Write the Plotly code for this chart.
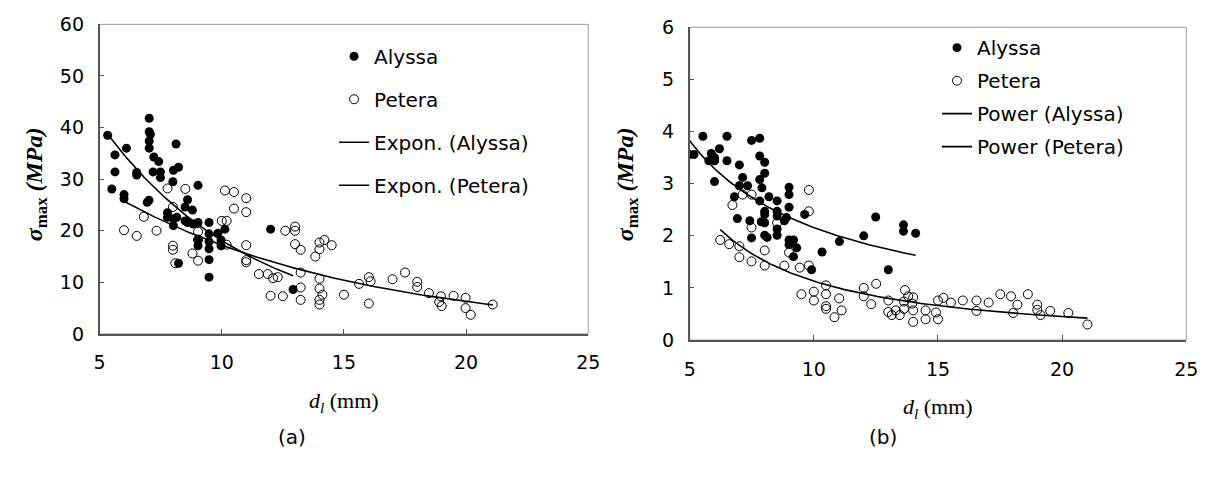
import numpy as np
import plotly.graph_objects as go

# ---------------- data (a) ----------------
alyssa_a_x = [5.33, 5.63, 5.63, 5.50, 6.10, 6.00, 6.00, 6.52, 6.52, 6.95, 7.02, 7.03, 7.03, 7.08, 7.03,
              7.03, 7.22, 7.42, 7.19, 7.49, 7.49, 8.13, 8.02, 8.23, 8.00, 9.03, 8.60, 8.50, 8.80, 7.78,
              7.78, 8.02, 8.02, 8.16, 8.50, 8.83, 9.03, 9.48, 9.03, 9.03, 9.48, 9.48, 9.48, 9.84, 9.97,
              9.97, 10.13, 9.48, 9.48, 8.23, 12.0, 12.92, 8.60]
alyssa_a_y = [38.5, 34.7, 31.4, 28.1, 36.0, 27.0, 26.2, 31.3, 30.8, 25.5, 25.9, 41.8, 39.2, 38.7, 37.4,
              36.0, 34.3, 33.4, 31.4, 31.4, 30.3, 36.8, 31.7, 32.3, 29.5, 28.8, 26.0, 24.6, 24.0, 23.5,
              22.6, 22.3, 21.0, 22.6, 21.9, 21.3, 21.6, 21.6, 18.4, 17.1, 19.4, 17.9, 16.5, 19.5, 18.2,
              17.1, 20.3, 14.4, 11.0, 13.7, 20.3, 8.6, 21.6]
petera_a_x = [6.0, 6.52, 7.33, 6.81, 7.78, 8.51, 8.0, 8.0, 8.0, 8.1, 8.8, 9.03, 9.03, 9.03, 10.0, 10.2,
              10.13, 10.5, 11.0, 10.5, 11.0, 10.2, 11.0, 11.0, 11.0, 11.52, 11.88, 12.1, 12.29, 12.0,
              12.5, 12.6, 13.0, 13.0, 13.0, 13.23, 13.23, 13.23, 13.23, 13.83, 14.0, 14.0, 14.2, 14.5,
              14.0, 14.0, 14.12, 14.0, 14.0, 15.0, 15.62, 16.02, 16.09, 16.02, 16.99, 17.5, 18.0, 18.0,
              18.48, 18.97, 18.9, 19.0, 19.49, 19.98, 19.98, 20.19, 21.09]
petera_a_y = [20.1, 19.0, 20.0, 22.7, 28.2, 28.1, 24.6, 17.1, 16.3, 13.7, 15.6, 14.2, 19.8, 18.2, 21.9, 21.9,
              27.8, 27.5, 26.3, 24.3, 23.6, 17.3, 17.2, 14.3, 13.9, 11.6, 11.6, 10.8, 11.0, 7.4,
              7.3, 20.0, 20.8, 20.0, 17.4, 16.3, 11.9, 9.0, 6.6, 15.0, 16.4, 17.7, 18.2, 17.2,
              10.7, 8.8, 7.6, 6.6, 5.7, 7.6, 9.7, 11.0, 10.2, 5.9, 10.6, 11.9, 10.1, 9.1,
              7.9, 7.3, 6.2, 5.4, 7.4, 7.0, 5.0, 3.7, 5.7]

# ---------------- data (b) ----------------
alyssa_b_x = [4.97, 5.17, 5.53, 6.2, 5.87, 6.0, 5.77, 6.0, 6.5, 6.5, 6.0, 7.0, 7.13, 7.0, 7.33, 6.8,
              7.49, 7.82, 7.82, 8.02, 8.02, 7.82, 7.91, 7.82, 8.19, 8.52, 6.92, 7.42, 8.02, 8.02, 7.88,
              8.02, 8.52, 8.52, 9.0, 9.0, 9.0, 8.81, 8.9, 9.63, 8.52, 8.52, 7.49, 8.02, 8.12, 9.0, 9.18,
              9.0, 9.31, 9.18, 9.91, 10.33, 11.03, 12.01, 12.49, 13.61, 13.61, 14.1, 13.0]
alyssa_b_y = [3.56, 3.56, 3.91, 3.67, 3.58, 3.50, 3.44, 3.44, 3.91, 3.44, 3.04, 3.36, 3.12, 2.96, 2.96, 2.75,
              3.83, 3.87, 3.53, 3.41, 3.20, 3.08, 2.92, 2.67, 2.75, 2.67, 2.33, 2.29, 2.47, 2.41, 2.27,
              2.25, 2.47, 2.38, 2.93, 2.79, 2.55, 2.29, 2.35, 2.41, 2.13, 2.01, 1.96, 2.01, 1.97, 1.92, 1.92,
              1.83, 1.77, 1.60, 1.35, 1.69, 1.89, 2.0, 2.36, 2.21, 2.09, 2.05, 1.35]
petera_b_x = [6.23, 6.59, 7.0, 7.0, 7.49, 8.02, 8.02, 8.81, 9.0, 9.43, 9.8, 6.72, 7.13, 7.49, 7.49, 8.52,
              9.8, 9.8, 9.5, 10.0, 10.0, 10.49, 10.49, 10.49, 10.49, 10.83, 11.02, 11.12, 12.01, 12.01,
              12.31, 12.51, 13.0, 13.0, 13.14, 13.3, 13.46, 13.63, 13.63, 13.67, 13.8, 13.96, 14.0, 14.0,
              14.0, 14.5, 14.5, 14.92, 15.0, 15.0, 15.22, 15.52, 16.0, 16.55, 16.55, 17.04, 17.51, 17.94,
              18.2, 18.03, 18.62, 19.0, 19.0, 19.13, 19.52, 20.25, 21.02]
petera_b_y = [1.92, 1.84, 1.80, 1.59, 1.51, 1.72, 1.43, 1.43, 1.68, 1.39, 1.43, 2.59, 2.79, 2.79, 2.16, 2.25,
              2.88, 2.47, 0.88, 0.93, 0.76, 1.05, 0.88, 0.65, 0.60, 0.44, 0.80, 0.57, 1.0, 0.84,
              0.69, 1.08, 0.76, 0.54, 0.48, 0.57, 0.48, 0.74, 0.60, 0.96, 0.84, 0.70, 0.82, 0.57,
              0.35, 0.57, 0.40, 0.53, 0.40, 0.76, 0.81, 0.72, 0.76, 0.76, 0.56, 0.72, 0.88, 0.84,
              0.68, 0.52, 0.88, 0.68, 0.58, 0.48, 0.56, 0.52, 0.30]

x_ticks = [5, 10, 15, 20, 25]
ya_ticks = [0, 10, 20, 30, 40, 50, 60]
yb_ticks = [0, 1, 2, 3, 4, 5, 6]


def expon_trend(x, y):
    x = np.asarray(x, float); y = np.asarray(y, float)
    b, lna = np.polyfit(x, np.log(y), 1)
    xs = np.linspace(x.min(), x.max(), 120)
    return xs, np.exp(lna) * np.exp(b * xs)


def power_trend(x, y):
    x = np.asarray(x, float); y = np.asarray(y, float)
    b, lna = np.polyfit(np.log(x), np.log(y), 1)
    xs = np.linspace(x.min(), x.max(), 120)
    return xs, np.exp(lna) * xs ** b


W, H = 1215, 478
SANS = "DejaVu Sans"
SERIF = "Liberation Serif"

fig = go.Figure()

filled = dict(symbol="circle", size=9, color="black", line=dict(width=0))
opened = dict(symbol="circle-open", size=9, color="black", line=dict(width=1))
lstyle = dict(color="black", width=1.6)

# panel (a)
fig.add_trace(go.Scatter(x=alyssa_a_x, y=alyssa_a_y, mode="markers", marker=filled, name="Alyssa",
                         xaxis="x", yaxis="y", legend="legend", legendgroup="a1"))
fig.add_trace(go.Scatter(x=petera_a_x, y=petera_a_y, mode="markers", marker=opened, name="Petera",
                         xaxis="x", yaxis="y", legend="legend", legendgroup="a2"))
tx, ty = expon_trend(alyssa_a_x, alyssa_a_y)
fig.add_trace(go.Scatter(x=tx, y=ty, mode="lines", line=lstyle, name="Expon. (Alyssa)",
                         xaxis="x", yaxis="y", legend="legend", legendgroup="a3"))
tx, ty = expon_trend(petera_a_x, petera_a_y)
fig.add_trace(go.Scatter(x=tx, y=ty, mode="lines", line=lstyle, name="Expon. (Petera)",
                         xaxis="x", yaxis="y", legend="legend", legendgroup="a4"))

# panel (b)
fig.add_trace(go.Scatter(x=alyssa_b_x, y=alyssa_b_y, mode="markers", marker=filled, name="Alyssa",
                         xaxis="x2", yaxis="y2", legend="legend2", legendgroup="b1"))
fig.add_trace(go.Scatter(x=petera_b_x, y=petera_b_y, mode="markers", marker=opened, name="Petera",
                         xaxis="x2", yaxis="y2", legend="legend2", legendgroup="b2"))
tx, ty = power_trend(alyssa_b_x, alyssa_b_y)
fig.add_trace(go.Scatter(x=tx, y=ty, mode="lines", line=lstyle, name="Power (Alyssa)",
                         xaxis="x2", yaxis="y2", legend="legend2", legendgroup="b3"))
tx, ty = power_trend(petera_b_x, petera_b_y)
fig.add_trace(go.Scatter(x=tx, y=ty, mode="lines", line=lstyle, name="Power (Petera)",
                         xaxis="x2", yaxis="y2", legend="legend2", legendgroup="b4"))

tickfont = dict(family=SANS, size=19, color="black")
axis_common = dict(showgrid=False, zeroline=False, showline=True, linecolor="#555555", linewidth=1.5,
                   ticks="inside", ticklen=5, tickcolor="#555555", tickwidth=1, tickfont=tickfont,
                   mirror=False)

fig.update_layout(
    width=W, height=H, margin=dict(l=0, r=0, t=0, b=0),
    paper_bgcolor="white", plot_bgcolor="white",
    xaxis=dict(domain=[95 / W, 591 / W], range=[5, 25], tickvals=x_ticks, anchor="y",
               ticklabelstandoff=11, **axis_common),
    yaxis=dict(domain=[1 - 338.5 / H, 1 - 14 / H], range=[0, 60], tickvals=ya_ticks, anchor="x",
               ticklabelstandoff=10, **axis_common),
    xaxis2=dict(domain=[694 / W, 1198 / W], range=[5, 25], tickvals=x_ticks, anchor="y2",
                ticklabelstandoff=11, **axis_common),
    yaxis2=dict(domain=[1 - 345 / H, 1 - 17 / H], range=[0, 6], tickvals=yb_ticks, anchor="x2",
                ticklabelstandoff=10, **axis_common),
    legend=dict(x=333 / W, y=1 - 27 / H, xanchor="left", yanchor="top", traceorder="grouped",
                tracegroupgap=14, itemwidth=30, bgcolor="rgba(0,0,0,0)",
                font=dict(family=SANS, size=20, color="black")),
    legend2=dict(x=945 / W, y=1 - 18 / H, xanchor="left", yanchor="top", traceorder="grouped",
                 tracegroupgap=4, itemwidth=30, bgcolor="rgba(0,0,0,0)",
                 font=dict(family=SANS, size=20, color="black")),
    showlegend=True,
)

# light frame (box) around each plot area
for xr, yr in (("x domain", "y domain"), ("x2 domain", "y2 domain")):
    fig.add_shape(type="rect", xref=xr, yref=yr, x0=0, x1=1, y0=0, y1=1,
                  line=dict(color="#9a9a9a", width=1), layer="below")

ytitle = "<b><i>σ</i></b><sub><b>max</b></sub><b><i> (MPa)</i></b>"
xtitle = "<i>d</i><sub><i>l</i></sub> (mm)"
ann = [
    dict(x=30 / W, y=1 - 182 / H, text=ytitle, textangle=-90, size=24),
    dict(x=630 / W, y=1 - 182 / H, text=ytitle, textangle=-90, size=24),
    dict(x=343 / W, y=1 - 410 / H, text=xtitle, size=22),
    dict(x=946 / W, y=1 - 416 / H, text=xtitle, size=22),
]
for a in ann:
    sz = a.pop("size")
    fig.add_annotation(xref="paper", yref="paper", showarrow=False, xanchor="center", yanchor="middle",
                       font=dict(family=SERIF, size=sz, color="black"), **a)
for txt, xc in (("(a)", 290), ("(b)", 890)):
    fig.add_annotation(xref="paper", yref="paper", showarrow=False, x=xc / W, y=1 - 447 / H,
                       xanchor="center", yanchor="middle", text=txt,
                       font=dict(family=SANS, size=20, color="black"))

fig.write_html("out.html")
